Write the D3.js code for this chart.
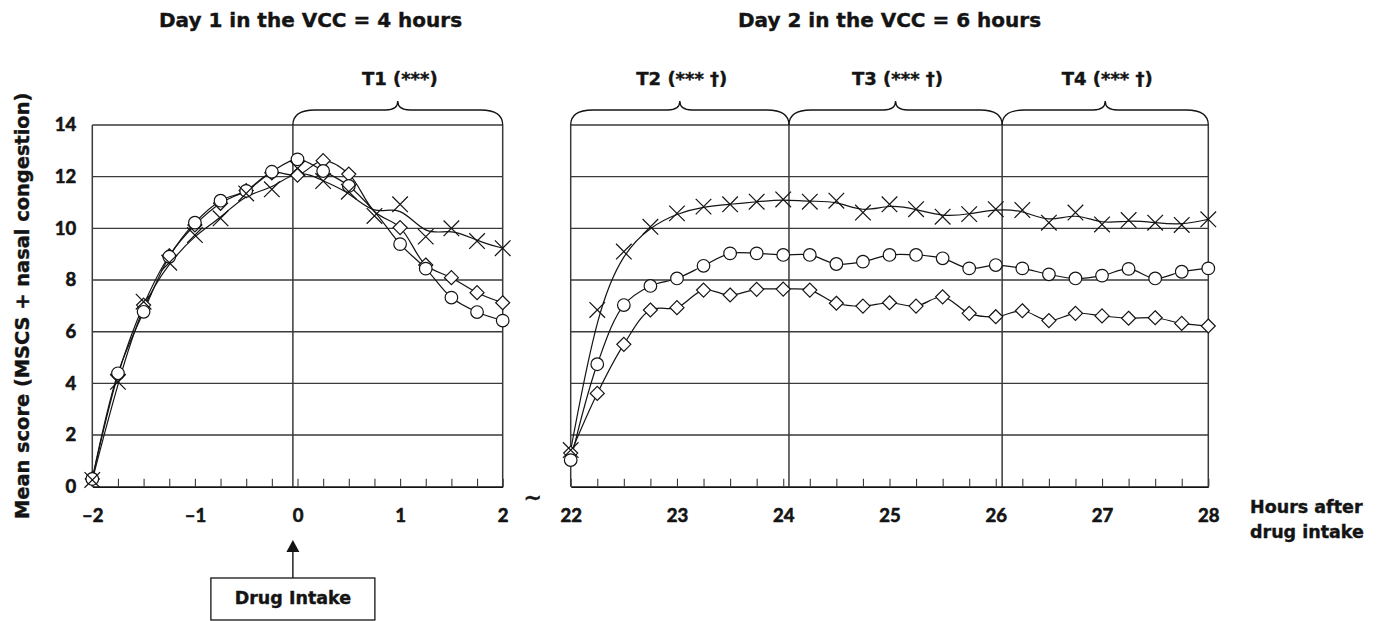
<!DOCTYPE html>
<html><head><meta charset="utf-8">
<script src="https://cdn.jsdelivr.net/npm/d3@7"></script>
<style>body{margin:0;background:#fff}svg{display:block}</style>
</head><body><svg id="c" width="1377" height="621"></svg>
<script>
// ---------- data ----------
const day1Hours   = [-2,-1.75,-1.5,-1.25,-1,-0.75,-0.5,-0.25,0,0.25,0.5,0.75,1,1.25,1.5,1.75,2];
const day1Circle  = [0.30,4.39,6.77,8.90,10.22,11.07,11.45,12.19,12.67,12.22,11.64,10.65,9.39,8.44,7.32,6.76,6.43];
const day1Diamond = [0.30,4.32,7.03,8.94,10.13,10.97,11.46,12.15,12.06,12.62,12.10,10.65,10.03,8.58,8.09,7.51,7.12];
const day1Cross   = [0.26,4.06,7.16,8.67,9.74,10.39,11.35,11.51,12.32,11.83,11.42,10.48,10.93,9.68,10.00,9.51,9.23];
const day1NoMarkerHours = [0.75]; // circle & diamond markers absent at this time point

const day2Hours   = [22,22.25,22.5,22.75,23,23.25,23.5,23.75,24,24.25,24.5,24.75,25,25.25,25.5,25.75,26,26.25,26.5,26.75,27,27.25,27.5,27.75,28];
const day2Circle  = [1.03,4.74,7.03,7.77,8.06,8.55,9.03,9.03,8.97,8.97,8.62,8.71,8.97,8.97,8.84,8.45,8.58,8.45,8.22,8.06,8.17,8.43,8.06,8.32,8.45];
const day2Diamond = [1.30,3.61,5.51,6.84,6.93,7.61,7.42,7.64,7.65,7.61,7.10,6.99,7.12,6.99,7.35,6.71,6.58,6.81,6.43,6.71,6.61,6.52,6.54,6.32,6.22];
const day2Cross   = [1.42,6.84,9.10,10.06,10.58,10.84,10.93,11.03,11.12,11.03,11.07,10.61,10.93,10.74,10.45,10.55,10.74,10.71,10.22,10.61,10.15,10.32,10.22,10.13,10.35];

const yTicks = [0,2,4,6,8,10,12,14];
const day1TickLabels = [-2,-1,0,1,2];
const day2TickLabels = [22,23,24,25,26,27,28];

const periodLabels = ["T1 (***)","T2 (*** \u2020)","T3 (*** \u2020)","T4 (*** \u2020)"];
const periodPanel  = [1,2,2,2];
const periodStart  = [-0.045,22,24.054,26.06];
const periodEnd    = [2,24.054,26.06,28];
const day1Sections = [-0.045];
const day2Sections = [24.054,26.06];

const panelTitles = ["Day 1 in the VCC = 4 hours","Day 2 in the VCC = 6 hours"];
const yTitle = "Mean score (MSCS + nasal congestion)";
const xTitle = ["Hours after","drug intake"];
const drugLabel = "Drug Intake";

// ---------- layout ----------
const svg = d3.select("#c");
const TXT = "'DejaVu Sans', sans-serif";
const NUM = "Lato, 'DejaVu Sans', sans-serif";
const y  = d3.scaleLinear([0,14],[486.7,125]);
const x1 = d3.scaleLinear([-2,2],[92.3,502.7]);
const x2 = d3.scaleLinear([22,28],[570.7,1208.3]);
const GRID = "#3a3a3a", INK = "#141414";

function boldText(sel, fam, size, extra){
  sel.attr("font-family",fam).attr("font-weight",700).attr("font-size",size)
     .attr("fill",INK).attr("stroke",INK).attr("stroke-width",extra).attr("paint-order","stroke");
  return sel;
}

function panel(x, hours, labels, sections){
  const g = svg.append("g");
  const [a,b] = x.range();
  g.selectAll("line.grid").data(yTicks.filter(d=>d>0)).join("line")
    .attr("x1",a).attr("x2",b).attr("y1",d=>y(d)).attr("y2",d=>y(d))
    .attr("stroke",GRID).attr("stroke-width",1.4);
  g.append("line").attr("x1",a).attr("x2",a).attr("y1",y(14)).attr("y2",y(0)).attr("stroke",GRID).attr("stroke-width",1.5);
  g.append("line").attr("x1",b).attr("x2",b).attr("y1",y(14)).attr("y2",y(0)).attr("stroke",GRID).attr("stroke-width",1.5);
  g.selectAll("line.sec").data(sections).join("line")
    .attr("x1",d=>x(d)).attr("x2",d=>x(d)).attr("y1",y(14)).attr("y2",y(0))
    .attr("stroke",GRID).attr("stroke-width",1.5);
  const minor = g.append("g").attr("transform",`translate(0,${y(0)})`)
    .call(d3.axisBottom(x).tickValues(hours).tickSize(-8).tickSizeOuter(0).tickFormat(""));
  minor.select(".domain").attr("stroke",INK).attr("stroke-width",1.8);
  minor.selectAll(".tick line").attr("stroke",GRID).attr("stroke-width",1.1);
  const lab = g.append("g").attr("transform",`translate(0,${y(0)})`)
    .call(d3.axisBottom(x).tickValues(labels).tickSize(0).tickPadding(22.5)
      .tickFormat(d=> d<0 ? "\u2013"+Math.abs(d) : String(d)));
  lab.select(".domain").remove();
  boldText(lab.selectAll("text"), NUM, 18.5, 0.6);
  return g;
}
panel(x1, day1Hours, day1TickLabels, day1Sections);
panel(x2, day2Hours, day2TickLabels, day2Sections);

const ya = svg.append("g").attr("transform",`translate(${x1(-2)},0)`)
  .call(d3.axisLeft(y).tickValues(yTicks).tickSize(0).tickPadding(16));
ya.select(".domain").remove();
boldText(ya.selectAll("text"), NUM, 18.5, 0.6);

// ---------- series ----------
function series(x, hours, vals, curve){
  const pts = hours.map((h,i)=>[h,vals[i]]);
  svg.append("path").datum(pts)
    .attr("d", d3.line().x(d=>x(d[0])).y(d=>y(d[1])).curve(curve))
    .attr("fill","none").attr("stroke",INK).attr("stroke-width",1.2);
  return pts;
}
const cr = d3.curveCatmullRom.alpha(0.5);
const p1d = series(x1, day1Hours, day1Diamond, cr);
const p1c = series(x1, day1Hours, day1Circle, cr);
const p1x = series(x1, day1Hours, day1Cross, d3.curveBasis);
const p2d = series(x2, day2Hours, day2Diamond, cr);
const p2c = series(x2, day2Hours, day2Circle, cr);
const p2x = series(x2, day2Hours, day2Cross, d3.curveBasis);

function diamonds(x, pts){
  svg.append("g").selectAll("path").data(pts).join("path")
    .attr("d",d=>{const cx=x(d[0]),cy=y(d[1]),s=7;return `M${cx},${cy-s}L${cx+s},${cy}L${cx},${cy+s}L${cx-s},${cy}Z`;})
    .attr("fill","#fff").attr("stroke",INK).attr("stroke-width",1.2);
}
function circles(x, pts){
  svg.append("g").selectAll("circle").data(pts).join("circle")
    .attr("cx",d=>x(d[0])).attr("cy",d=>y(d[1])).attr("r",6.3)
    .attr("fill","#fff").attr("stroke",INK).attr("stroke-width",1.2);
}
function crosses(x, pts){
  svg.append("g").selectAll("path").data(pts).join("path")
    .attr("d",d=>{const cx=x(d[0]),cy=y(d[1]),s=7.8;return `M${cx-s},${cy-s}L${cx+s},${cy+s}M${cx-s},${cy+s}L${cx+s},${cy-s}`;})
    .attr("fill","none").attr("stroke",INK).attr("stroke-width",1.2);
}
const keep = p => !day1NoMarkerHours.includes(p[0]);
diamonds(x1, p1d.filter(keep)); circles(x1, p1c.filter(keep)); crosses(x1, p1x);
diamonds(x2, p2d); circles(x2, p2c); crosses(x2, p2x);

// ---------- braces & period labels ----------
function brace(a,b){
  const yb=y(14), ym=110, yt=101, m=(a+b)/2, q=22, q2=12;
  return `M${a},${yb}Q${a},${ym} ${a+q},${ym}L${m-q2},${ym}Q${m},${ym} ${m},${yt}`+
         `Q${m},${ym} ${m+q2},${ym}L${b-q},${ym}Q${b},${ym} ${b},${yb}`;
}
periodLabels.forEach((lab,i)=>{
  const x = periodPanel[i]===1 ? x1 : x2;
  const a = x(periodStart[i]), b = x(periodEnd[i]);
  svg.append("path").attr("d",brace(a,b)).attr("fill","none").attr("stroke",INK).attr("stroke-width",1.3);
  boldText(svg.append("text").attr("x",(a+b)/2+2).attr("y",85).attr("text-anchor","middle"), TXT, 18, 0.4).text(lab);
});

// ---------- titles ----------
const tcx = [(x1(-2)+x1(2))/2+13, (x2(22)+x2(28))/2];
panelTitles.forEach((t,i)=>{
  boldText(svg.append("text").attr("x",tcx[i]).attr("y",27).attr("text-anchor","middle"), TXT, 20, 0.4).text(t);
});
boldText(svg.append("text").attr("transform",`translate(28.5,${(y(0)+y(14))/2}) rotate(-90)`)
  .attr("text-anchor","middle"), TXT, 19.4, 0.4).text(yTitle);
xTitle.forEach((t,i)=>{
  boldText(svg.append("text").attr("x",1250).attr("y",513+25*i), TXT, 17.5, 0.4).text(t);
});
boldText(svg.append("text").attr("x",(x1(2)+x2(22))/2-4).attr("y",505).attr("text-anchor","middle"), TXT, 22, 0.4).text("~");

// ---------- drug intake annotation ----------
const ax = x1(day1Sections[0]);
svg.append("line").attr("x1",ax).attr("x2",ax).attr("y1",578).attr("y2",551).attr("stroke",INK).attr("stroke-width",1.4);
svg.append("path").attr("d",`M${ax-6.5},552L${ax+6.5},552L${ax},540Z`).attr("fill",INK);
svg.append("rect").attr("x",ax-82).attr("y",578).attr("width",164).attr("height",42)
  .attr("fill","#fff").attr("stroke",INK).attr("stroke-width",1.3);
boldText(svg.append("text").attr("x",ax).attr("y",604).attr("text-anchor","middle"), TXT, 17.5, 0.4).text(drugLabel);
</script></body></html>
